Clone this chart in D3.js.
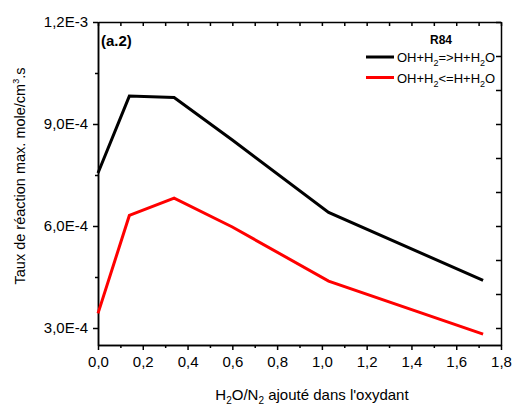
<!DOCTYPE html>
<html>
<head>
<meta charset="utf-8">
<script src="https://cdn.jsdelivr.net/npm/d3@7.9.0/dist/d3.min.js"></script>
<style>
  body { margin: 0; background: #fff; }
  svg { font-family: "Liberation Sans", Arial, sans-serif; }
  .axis path, .axis line { stroke: #000; stroke-width: 1.5; }
  .axis text { font-size: 15px; fill: #000; }
</style>
</head>
<body>
<svg width="513" height="406"></svg>
<script>
// data
const ratio = [0, 0.14, 0.34, 0.6, 1.03, 1.72];
const forward = [7.56e-4, 9.82e-4, 9.78e-4, 8.53e-4, 6.4e-4, 4.4e-4];   // OH+H2=>H+H2O
const reverse = [3.43e-4, 6.31e-4, 6.82e-4, 5.97e-4, 4.38e-4, 2.82e-4]; // OH+H2<=H+H2O
const xTicks = [0, 0.2, 0.4, 0.6, 0.8, 1.0, 1.2, 1.4, 1.6, 1.8];
const yTicks = [3e-4, 6e-4, 9e-4, 1.2e-3];

const mLeft = 98, mRight = 501, mTop = 22, mBottom = 345;
const svg = d3.select('svg');

let x = d3.scaleLinear().domain([0, 1.8]).range([mLeft, mRight]);
let y = d3.scaleLinear().domain([2.5e-4, 1.2e-3]).range([mBottom, mTop]);

const fmtX = d => d3.format('.1f')(d).replace('.', ',');
const fmtY = d => d.toExponential(1).replace('.', ',').replace('e', 'E');

// minor ticks (halfway between majors)
let xMinor = xTicks.slice(0, -1).map(d => d + 0.1);
let yMinor = yTicks.slice(0, -1).map(d => d + 1.5e-4);

// bottom axis
svg.append('g').attr('class', 'axis')
  .attr('transform', `translate(0,${mBottom})`)
  .call(d3.axisBottom(x).tickValues(xTicks).tickFormat(fmtX).tickSize(5).tickSizeOuter(0).tickPadding(6));
svg.append('g').attr('class', 'axis')
  .attr('transform', `translate(0,${mBottom})`)
  .call(d3.axisBottom(x).tickValues(xMinor).tickFormat('').tickSize(3).tickSizeOuter(0));

// top axis, ticks inside
svg.append('g').attr('class', 'axis')
  .attr('transform', `translate(0,${mTop})`)
  .call(d3.axisTop(x).tickValues(xTicks.concat(xMinor)).tickFormat('').tickSize(-4).tickSizeOuter(0));

// left axis
svg.append('g').attr('class', 'axis')
  .attr('transform', `translate(${mLeft},0)`)
  .call(d3.axisLeft(y).tickValues(yTicks).tickFormat(fmtY).tickSize(5).tickSizeOuter(0).tickPadding(5));
svg.append('g').attr('class', 'axis')
  .attr('transform', `translate(${mLeft},0)`)
  .call(d3.axisLeft(y).tickValues(yMinor).tickFormat('').tickSize(3).tickSizeOuter(0));

// right axis, ticks inside every 1E-4
svg.append('g').attr('class', 'axis')
  .attr('transform', `translate(${mRight},0)`)
  .call(d3.axisRight(y).tickValues(d3.range(3, 12.5, 1).map(d => d * 1e-4)).tickFormat('').tickSize(-5).tickSizeOuter(0));

// lines
let line = d3.line().x((d, i) => x(ratio[i])).y(d => y(d));
svg.append('path').datum(forward).attr('d', line)
  .attr('fill', 'none').attr('stroke', '#000').attr('stroke-width', 3);
svg.append('path').datum(reverse).attr('d', line)
  .attr('fill', 'none').attr('stroke', '#ff0000').attr('stroke-width', 3);

// panel label
svg.append('text').attr('x', 101).attr('y', 46)
  .attr('font-size', 15).attr('font-weight', 'bold').text('(a.2)');

// legend
svg.append('text').attr('x', 441).attr('y', 44).attr('text-anchor', 'middle')
  .attr('font-size', 12).attr('font-weight', 'bold').text('R84');

// text with subscripts: segments alternate normal / sub
function chem(t, parts, big, small) {
  let shift = 0;
  parts.forEach(([s, sub]) => {
    let target = sub ? 4 : 0;
    t.append('tspan').attr('dy', target - shift)
      .attr('font-size', sub ? small : big).text(s);
    shift = target;
  });
}
const legendItems = [
  { color: '#000', parts: [['OH+H'], ['2', 1], ['=>H+H'], ['2', 1], ['O']] },
  { color: '#ff0000', parts: [['OH+H'], ['2', 1], ['<=H+H'], ['2', 1], ['O']] }
];
legendItems.forEach((d, i) => {
  let ly = 57 + i * 20.5;
  svg.append('line').attr('x1', 366).attr('x2', 394).attr('y1', ly).attr('y2', ly)
    .attr('stroke', d.color).attr('stroke-width', 3);
  let t = svg.append('text').attr('x', 397).attr('y', ly + 5);
  chem(t, d.parts, 13, 9);
});

// axis titles
let xt = svg.append('text').attr('x', 312).attr('y', 400).attr('text-anchor', 'middle');
chem(xt, [['H'], ['2', 1], ['O/N'], ['2', 1], [' ajouté dans l\'oxydant']], 15, 10);

let yt = svg.append('text').attr('transform', 'translate(25,176) rotate(-90)')
  .attr('text-anchor', 'middle').attr('font-size', 14.5);
yt.append('tspan').text('Taux de réaction max. mole/cm');
yt.append('tspan').attr('dy', -6).attr('font-size', 9).text('3');
yt.append('tspan').attr('dy', 6).text('.s');
</script>
</body>
</html>
